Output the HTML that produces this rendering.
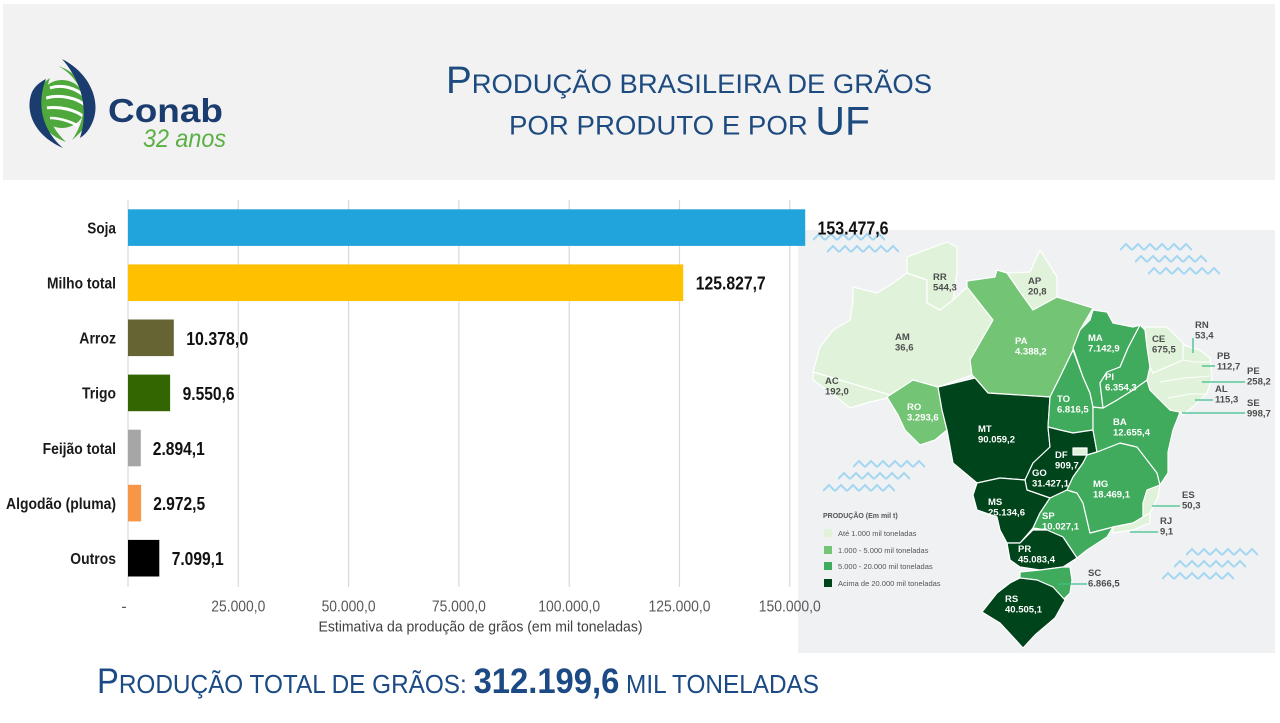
<!DOCTYPE html>
<html><head><meta charset="utf-8">
<style>
html,body{margin:0;padding:0;background:#fff;}
svg{display:block;}
text{font-family:"Liberation Sans",Arial,sans-serif;}
</style></head>
<body>
<svg width="1280" height="723" viewBox="0 0 1280 723" xmlns="http://www.w3.org/2000/svg">
<defs>
<pattern id="zz" width="12" height="10" patternUnits="userSpaceOnUse">
<polyline points="0,8 6,2 12,8" fill="none" stroke="#a3d6f1" stroke-width="2"/>
</pattern>
</defs>
<rect x="0" y="0" width="1280" height="723" fill="#fff"/>
<!-- header -->
<rect x="3" y="4" width="1272" height="176" fill="#f2f2f2"/>
<!-- logo -->
<circle cx="62" cy="104" r="24" fill="#4ea83c"/>
<path d="M50,88 C62,84 76,88 84,96" stroke="#fff" stroke-width="3" fill="none"/>
<path d="M46,98 C60,94 78,98 86,106" stroke="#fff" stroke-width="3" fill="none"/>
<path d="M46,108 C60,106 76,110 84,117" stroke="#fff" stroke-width="3" fill="none"/>
<path d="M50,118 C60,118 72,122 78,126" stroke="#fff" stroke-width="2.5" fill="none"/>
<path d="M44,86 C40,96 40,108 44,118" stroke="#fff" stroke-width="2" fill="none"/>
<path d="M58,66 C78,72 92,92 90,112 C88,124 82,132 72,140 C82,126 86,108 82,94 C78,82 70,72 58,66 Z" fill="#4ea83c"/>
<path d="M62,59 C88,72 100,98 94,118 C91,128 86,134 80,138 C88,112 84,84 62,59 Z" fill="#1b3c6e"/>
<path d="M66,142 C44,134 32,114 36,96 C38,88 44,82 50,78 C42,98 46,124 66,142 Z" fill="#4ea83c"/>
<path d="M63,148 C35,136 24,112 32,92 C35,86 40,82 46,79 C36,104 42,130 63,148 Z" fill="#1b3c6e"/>
<text x="108" y="122" font-size="33" font-weight="bold" fill="#1b3c6e" textLength="115" lengthAdjust="spacingAndGlyphs">Conab</text>
<text x="143" y="147" font-size="25" font-style="italic" fill="#5baf45" textLength="83" lengthAdjust="spacingAndGlyphs">32 anos</text>
<!-- title -->
<text x="446" y="93" fill="#1d4b80" textLength="486" lengthAdjust="spacingAndGlyphs"><tspan font-size="38">P</tspan><tspan font-size="27">RODUÇÃO BRASILEIRA DE GRÃOS</tspan></text>
<text x="509" y="134.5" fill="#1d4b80" textLength="361" lengthAdjust="spacingAndGlyphs"><tspan font-size="27">POR PRODUTO E POR </tspan><tspan font-size="40">UF</tspan></text>

<!-- map background -->
<rect x="798" y="230" width="477" height="423" fill="#f0f1f3"/>
<!-- waves -->
<g transform="translate(813,232)"><rect width="72" height="10" fill="url(#zz)"/></g>
<g transform="translate(827,244)"><rect width="72" height="10" fill="url(#zz)"/></g>
<g transform="translate(1120,242)"><rect width="72" height="10" fill="url(#zz)"/></g>
<g transform="translate(1135,254)"><rect width="72" height="10" fill="url(#zz)"/></g>
<g transform="translate(1148,266)"><rect width="72" height="10" fill="url(#zz)"/></g>
<g transform="translate(853,459)"><rect width="72" height="10" fill="url(#zz)"/></g>
<g transform="translate(838,471)"><rect width="72" height="10" fill="url(#zz)"/></g>
<g transform="translate(823,483)"><rect width="72" height="10" fill="url(#zz)"/></g>
<g transform="translate(1186,547)"><rect width="72" height="10" fill="url(#zz)"/></g>
<g transform="translate(1174,559)"><rect width="72" height="10" fill="url(#zz)"/></g>
<g transform="translate(1162,571)"><rect width="72" height="10" fill="url(#zz)"/></g>

<!-- map states -->
<g stroke="#fff" stroke-width="1.2" stroke-linejoin="round">
<polygon fill="#e0f2da" points="853,287 877,293 893,283 907,273 927,280 927,303 940,310 953,300 967,287 993,320 970,360 972,375 938,387 913,380 890,395 813,372 820,347 833,330 850,320 853,300"/>
<polygon fill="#e0f2da" points="813,372 890,395 887,398 870,402 850,408 830,392 813,380"/>
<polygon fill="#e0f2da" points="907,257 947,242 957,247 957,273 953,300 940,310 927,303 927,280 907,273"/>
<polygon fill="#e0f2da" points="1007,273 1030,272 1040,250 1057,277 1057,297 1033,310 1020,292"/>
<polygon fill="#74c476" points="967,281 995,277 997,270 1007,273 1020,292 1033,310 1057,297 1093,308 1080,330 1073,350 1060,377 1050,397 988,393 977,380 972,375 970,360 993,320 967,287"/>
<polygon fill="#74c476" points="887,397 913,380 938,387 942,410 947,430 935,440 920,445 905,430 898,415"/>
<polygon fill="#00441b" points="938,387 975,378 988,393 1050,397 1048,427 1050,447 1033,463 1025,480 1000,478 977,483 953,463 947,430 942,410"/>
<polygon fill="#41ab5d" points="1050,397 1060,377 1073,350 1083,377 1090,393 1093,407 1093,430 1073,433 1060,430 1048,427"/>
<polygon fill="#00441b" points="1048,427 1060,430 1073,433 1093,430 1097,452 1087,455 1083,463 1073,477 1067,490 1050,498 1027,490 1025,480 1033,463 1050,447"/>
<polygon fill="#e0f2da" points="1073,448 1087,448 1087,455 1073,455"/>
<polygon fill="#00441b" points="977,483 1000,478 1025,480 1027,490 1050,498 1040,513 1033,528 1020,543 1007,543 1000,530 997,517 977,510 973,495"/>
<polygon fill="#41ab5d" points="1033,528 1040,513 1050,498 1067,490 1077,493 1083,503 1090,533 1113,527 1107,537 1087,550 1077,558 1063,537 1047,530"/>
<polygon fill="#00441b" points="1007,543 1020,543 1033,530 1047,530 1063,537 1077,558 1063,567 1040,570 1020,567 1010,560"/>
<polygon fill="#41ab5d" points="1020,572 1040,570 1063,567 1070,567 1072,580 1070,593 1063,600 1053,587 1037,580 1020,578"/>
<polygon fill="#00441b" points="1020,578 1037,580 1053,587 1065,600 1055,618 1035,635 1023,648 1013,637 1000,623 982,612 997,593 1010,583"/>
<polygon fill="#41ab5d" points="1067,490 1073,477 1083,463 1087,455 1097,452 1120,443 1137,447 1157,473 1160,485 1147,490 1143,503 1143,517 1133,523 1113,527 1090,533 1083,503 1077,493"/>
<polygon fill="#e0f2da" points="1147,490 1160,485 1158,497 1150,513 1143,517 1143,503"/>
<polygon fill="#e0f2da" points="1133,523 1143,517 1150,513 1150,523 1133,530 1113,533 1113,527"/>
<polygon fill="#41ab5d" points="1093,407 1103,408 1117,400 1133,390 1147,380 1150,390 1160,400 1170,410 1180,412 1177,420 1173,430 1168,452 1168,473 1160,485 1157,473 1137,447 1120,443 1097,452 1093,430"/>
<polygon fill="#41ab5d" points="1073,348 1080,330 1090,320 1093,310 1107,312 1113,323 1133,327 1140,325 1128,348 1120,367 1107,372 1100,383 1103,408 1093,407 1090,393 1083,377"/>
<polygon fill="#41ab5d" points="1140,325 1145,330 1147,347 1150,367 1147,380 1133,390 1117,400 1103,408 1100,383 1107,372 1120,367 1128,348"/>
<polygon fill="#e0f2da" points="1145,327 1167,327 1187,347 1183,360 1167,367 1153,373 1150,367 1147,347"/>
<polygon fill="#e0f2da" points="1183,345 1200,350 1210,358 1212,378 1207,393 1195,405 1183,415 1180,412 1170,410 1160,400 1150,390 1147,380 1150,367 1153,373 1167,367 1183,360"/>
</g>
<g stroke="#fff" stroke-width="1" fill="none">
<polyline points="1183,360 1195,362 1211,362"/>
<polyline points="1160,382 1185,378 1210,376"/>
<polyline points="1168,398 1190,394 1206,394"/>
</g>
<!-- leader lines -->
<g stroke="#3cbf8a" stroke-width="1.3">
<line x1="1193" y1="338" x2="1193" y2="353"/>
<line x1="1202" y1="366" x2="1215" y2="366"/>
<line x1="1202" y1="382" x2="1245" y2="382"/>
<line x1="1195" y1="400" x2="1213" y2="400"/>
<line x1="1182" y1="413" x2="1245" y2="413"/>
<line x1="1152" y1="506" x2="1180" y2="506"/>
<line x1="1130" y1="532" x2="1158" y2="532"/>
<line x1="1058" y1="584" x2="1087" y2="584"/>
</g>
<!-- map labels -->
<g font-size="9.5" font-weight="bold" fill="#4d4d4d">
<text x="933" y="280">RR</text><text x="933" y="290.5">544,3</text>
<text x="1028" y="284">AP</text><text x="1028" y="294.5">20,8</text>
<text x="895" y="340">AM</text><text x="895" y="350.5">36,6</text>
<text x="1152" y="342">CE</text><text x="1152" y="352.5">675,5</text>
<text x="1195" y="328">RN</text><text x="1195" y="338.5">53,4</text>
<text x="1217" y="359">PB</text><text x="1217" y="369.5">112,7</text>
<text x="1247" y="374">PE</text><text x="1247" y="384.5">258,2</text>
<text x="1215" y="392">AL</text><text x="1215" y="402.5">115,3</text>
<text x="1247" y="406">SE</text><text x="1247" y="416.5">998,7</text>
<text x="825" y="384">AC</text><text x="825" y="394.5">192,0</text>
<text x="1088" y="576">SC</text><text x="1088" y="586.5">6.866,5</text>
<text x="1182" y="498">ES</text><text x="1182" y="508.5">50,3</text>
<text x="1160" y="524">RJ</text><text x="1160" y="534.5">9,1</text>
</g>
<g font-size="9.5" font-weight="bold" fill="#ffffff">
<text x="1015" y="344">PA</text><text x="1015" y="354.5">4.388,2</text>
<text x="1088" y="341">MA</text><text x="1088" y="351.5">7.142,9</text>
<text x="907" y="410">RO</text><text x="907" y="420.5">3.293,6</text>
<text x="1057" y="402">TO</text><text x="1057" y="412.5">6.816,5</text>
<text x="1105" y="380">PI</text><text x="1105" y="390.5">6.354,3</text>
<text x="1113" y="425">BA</text><text x="1113" y="435.5">12.655,4</text>
<text x="978" y="432">MT</text><text x="978" y="442.5">90.059,2</text>
<text x="1055" y="458">DF</text><text x="1055" y="468.5">909,7</text>
<text x="1032" y="476">GO</text><text x="1032" y="486.5">31.427,1</text>
<text x="1093" y="487">MG</text><text x="1093" y="497.5">18.469,1</text>
<text x="988" y="505">MS</text><text x="988" y="515.5">25.134,6</text>
<text x="1042" y="519">SP</text><text x="1042" y="529.5">10.027,1</text>
<text x="1018" y="552">PR</text><text x="1018" y="562.5">45.083,4</text>
<text x="1005" y="602">RS</text><text x="1005" y="612.5">40.505,1</text>
</g>
<!-- legend -->
<text x="823" y="518" font-size="7" font-weight="bold" fill="#555">PRODUÇÃO (Em mil t)</text>
<rect x="824" y="529" width="8" height="8" fill="#e0f2da"/>
<rect x="824" y="546" width="8" height="8" fill="#74c476"/>
<rect x="824" y="562" width="8" height="8" fill="#41ab5d"/>
<rect x="824" y="579" width="8" height="8" fill="#00441b"/>
<g font-size="7.5" fill="#555">
<text x="838" y="536">Até 1.000 mil toneladas</text>
<text x="838" y="553">1.000 - 5.000 mil toneladas</text>
<text x="838" y="569">5.000 - 20.000 mil toneladas</text>
<text x="838" y="586">Acima de 20.000 mil toneladas</text>
</g>

<!-- chart gridlines -->
<g stroke="#d9d9d9" stroke-width="1.2">
<line x1="128" y1="200" x2="128" y2="587"/>
<line x1="238.3" y1="200" x2="238.3" y2="587"/>
<line x1="348.6" y1="200" x2="348.6" y2="587"/>
<line x1="458.9" y1="200" x2="458.9" y2="587"/>
<line x1="569.2" y1="200" x2="569.2" y2="587"/>
<line x1="679.5" y1="200" x2="679.5" y2="587"/>
<line x1="789.8" y1="200" x2="789.8" y2="587"/>
</g>
<!-- bars -->
<rect x="128" y="209.3" width="677.2" height="36.6" fill="#21a3db"/>
<rect x="128" y="264.4" width="555.2" height="36.6" fill="#ffc000"/>
<rect x="128" y="319.5" width="45.8" height="36.6" fill="#676433"/>
<rect x="128" y="374.6" width="42.1" height="36.6" fill="#336600"/>
<rect x="128" y="429.7" width="12.8" height="36.6" fill="#a6a6a6"/>
<rect x="128" y="484.8" width="13.1" height="36.6" fill="#f79646"/>
<rect x="128" y="539.9" width="31.3" height="36.6" fill="#000000"/>
<!-- category labels -->
<g font-size="16" font-weight="bold" fill="#1a1a1a" text-anchor="end">
<text x="116" y="233.4" textLength="28.7" lengthAdjust="spacingAndGlyphs">Soja</text>
<text x="116" y="288.5" textLength="69" lengthAdjust="spacingAndGlyphs">Milho total</text>
<text x="116" y="343.6" textLength="36.7" lengthAdjust="spacingAndGlyphs">Arroz</text>
<text x="116" y="398.7" textLength="34" lengthAdjust="spacingAndGlyphs">Trigo</text>
<text x="116" y="453.8" textLength="73.4" lengthAdjust="spacingAndGlyphs">Feijão total</text>
<text x="116" y="508.9" textLength="110" lengthAdjust="spacingAndGlyphs">Algodão (pluma)</text>
<text x="116" y="564" textLength="45.7" lengthAdjust="spacingAndGlyphs">Outros</text>
</g>
<!-- value labels -->
<g font-size="18" font-weight="bold" fill="#111">
<text x="817.5" y="234.6" textLength="71" lengthAdjust="spacingAndGlyphs">153.477,6</text>
<text x="695.7" y="289.7" textLength="70" lengthAdjust="spacingAndGlyphs">125.827,7</text>
<text x="186.2" y="344.8" textLength="62" lengthAdjust="spacingAndGlyphs">10.378,0</text>
<text x="182.6" y="399.9" textLength="52" lengthAdjust="spacingAndGlyphs">9.550,6</text>
<text x="152.8" y="455" textLength="52" lengthAdjust="spacingAndGlyphs">2.894,1</text>
<text x="153.2" y="510.1" textLength="52" lengthAdjust="spacingAndGlyphs">2.972,5</text>
<text x="171.7" y="565.2" textLength="52" lengthAdjust="spacingAndGlyphs">7.099,1</text>
</g>
<!-- tick labels -->
<g font-size="16" fill="#595959" text-anchor="middle">
<text x="124" y="611.5">-</text>
<text x="238.3" y="611.5" textLength="54" lengthAdjust="spacingAndGlyphs">25.000,0</text>
<text x="348.6" y="611.5" textLength="54" lengthAdjust="spacingAndGlyphs">50.000,0</text>
<text x="458.9" y="611.5" textLength="54" lengthAdjust="spacingAndGlyphs">75.000,0</text>
<text x="569.2" y="611.5" textLength="62" lengthAdjust="spacingAndGlyphs">100.000,0</text>
<text x="679.5" y="611.5" textLength="62" lengthAdjust="spacingAndGlyphs">125.000,0</text>
<text x="789.8" y="611.5" textLength="62" lengthAdjust="spacingAndGlyphs">150.000,0</text>
</g>
<text x="318.5" y="631.5" font-size="15" fill="#404040" textLength="324" lengthAdjust="spacingAndGlyphs">Estimativa da produção de grãos (em mil toneladas)</text>

<!-- bottom total -->
<text x="97" y="693" fill="#1b4a84" textLength="722" lengthAdjust="spacingAndGlyphs"><tspan font-size="35">P</tspan><tspan font-size="26">RODUÇÃO TOTAL DE GRÃOS: </tspan><tspan font-size="35" font-weight="bold">312.199,6</tspan><tspan font-size="26"> MIL TONELADAS</tspan></text>
</svg>
</body></html>
